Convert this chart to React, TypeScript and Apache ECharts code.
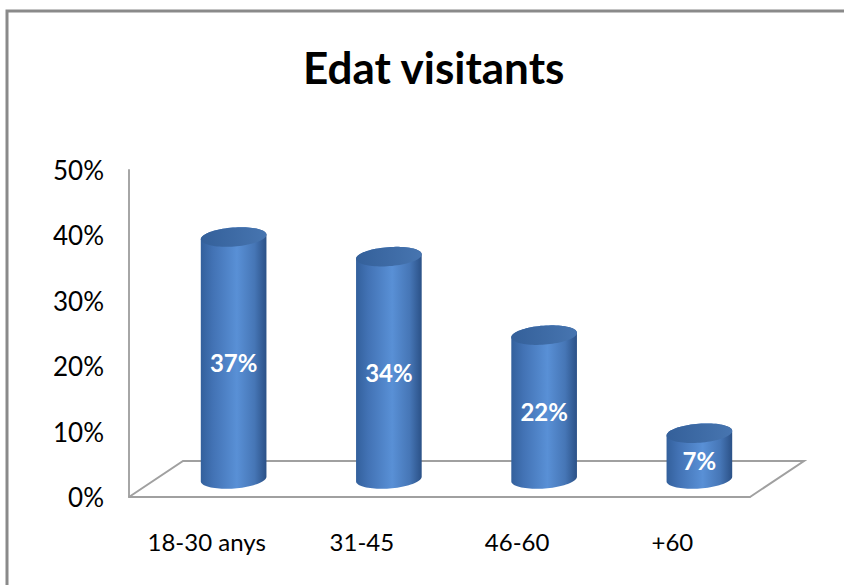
import React, { useEffect, useRef } from "react";
import * as echarts from "echarts";

// Age groups of visitors and their share (%)
const categories = ["18-30 anys", "31-45", "46-60", "+60"];
const shares = [37, 34, 22, 7];
const yTicks = { min: 0, max: 50, interval: 10 };
const chartTitle = "Edat visitants";

// Oblique depth of the floor (pixels) and cylinder shape
const DEPTH_X = 54;
const DEPTH_Y = -36;
const RY = 9.5;
const TILT = -0.075;

function ellipsePoints(cx: number, cy: number, rx: number, ry: number, t0: number, t1: number, n: number) {
  const pts: number[][] = [];
  const c = Math.cos(TILT);
  const s = Math.sin(TILT);
  for (let k = 0; k <= n; k++) {
    const t = t0 + ((t1 - t0) * k) / n;
    const ex = rx * Math.cos(t);
    const ey = ry * Math.sin(t);
    pts.push([cx + ex * c - ey * s, cy + ex * s + ey * c]);
  }
  return pts;
}

export default function App() {
  const ref = useRef<HTMLDivElement>(null);

  useEffect(() => {
    document.body.style.margin = "0";
    if (!ref.current) return;
    const chart = echarts.init(ref.current, null, { renderer: "svg" });

    const bodyGradient = () =>
      new echarts.graphic.LinearGradient(0, 0, 1, 0, [
        { offset: 0, color: "#33609c" },
        { offset: 0.18, color: "#4272b4" },
        { offset: 0.55, color: "#5990d6" },
        { offset: 0.82, color: "#4676b6" },
        { offset: 1, color: "#2b5187" },
      ]);
    const topGradient = () =>
      new echarts.graphic.LinearGradient(0, 0, 1, 0, [
        { offset: 0, color: "#34609a" },
        { offset: 1, color: "#4775b0" },
      ]);

    chart.setOption({
      animation: false,
      backgroundColor: "#ffffff",
      title: {
        text: chartTitle,
        left: 298,
        top: 40,
        textStyle: {
          fontFamily: "Lato",
          fontWeight: "bold",
          fontSize: 44,
          color: "#000000",
        },
      },
      graphic: [
        {
          type: "rect",
          shape: { x: 7, y: 11, width: 900, height: 700 },
          style: { fill: "none", stroke: "#8a8a8a", lineWidth: 3 },
          silent: true,
        },
      ],
      grid: { left: 129, right: 94, top: 170, bottom: 88 },
      xAxis: {
        type: "category",
        data: categories,
        axisLine: { show: true, lineStyle: { color: "#a0a0a0", width: 2 } },
        axisTick: { show: false },
        axisLabel: {
          margin: 32,
          fontFamily: "Lato",
          fontSize: 24,
          color: "#000000",
        },
      },
      yAxis: {
        type: "value",
        min: yTicks.min,
        max: yTicks.max,
        interval: yTicks.interval,
        splitLine: { show: false },
        axisTick: { show: false },
        axisLine: { show: true, lineStyle: { color: "#a6a6a6", width: 2 } },
        axisLabel: {
          margin: 25,
          formatter: "{value}%",
          fontFamily: "Lato",
          fontSize: 26,
          color: "#000000",
        },
      },
      series: [
        {
          type: "custom",
          name: "floor",
          data: [[0, 0]],
          encode: { x: 0, y: 1 },
          z: 1,
          silent: true,
          renderItem: (params: any) => {
            const cs = params.coordSys;
            const x0 = cs.x;
            const x1 = cs.x + cs.width;
            const yb = cs.y + cs.height;
            return {
              type: "polyline",
              shape: {
                points: [
                  [x0, yb],
                  [x0 + DEPTH_X, yb + DEPTH_Y],
                  [x1 + DEPTH_X, yb + DEPTH_Y],
                  [x1, yb],
                ],
              },
              style: { stroke: "#a0a0a0", lineWidth: 2, fill: "none" },
            };
          },
        },
        {
          type: "custom",
          name: "Edat",
          data: shares.map((v, i) => [i, v]),
          encode: { x: 0, y: 1 },
          z: 2,
          renderItem: (params: any, api: any) => {
            const i = api.value(0);
            const v = api.value(1);
            const base = api.coord([i, 0]);
            const top = api.coord([i, v]);
            const rx = api.size([1, 0])[0] * 0.212;
            const cx = base[0] + DEPTH_X / 2;
            const cyB = base[1] + DEPTH_Y / 2;
            const cyT = top[1] + DEPTH_Y / 2;
            const body = [
              ...ellipsePoints(cx, cyB, rx, RY, 0, Math.PI, 40),
              ...ellipsePoints(cx, cyT, rx, RY, Math.PI, 2 * Math.PI, 40),
            ];
            const cap = ellipsePoints(cx, cyT, rx, RY, 0, 2 * Math.PI, 80);
            return {
              type: "group",
              children: [
                {
                  type: "polygon",
                  shape: { points: body },
                  style: { fill: bodyGradient() },
                },
                {
                  type: "polygon",
                  shape: { points: cap },
                  style: { fill: topGradient() },
                },
                {
                  type: "text",
                  x: cx,
                  y: (cyT + cyB + RY) / 2,
                  style: {
                    text: `${v}%`,
                    fill: "#ffffff",
                    fontFamily: "Lato",
                    fontWeight: "bold",
                    fontSize: 24,
                    align: "center",
                    verticalAlign: "middle",
                  },
                },
              ],
            };
          },
        },
      ],
    });

    return () => chart.dispose();
  }, []);

  return <div ref={ref} style={{ width: 844, height: 585 }} />;
}
